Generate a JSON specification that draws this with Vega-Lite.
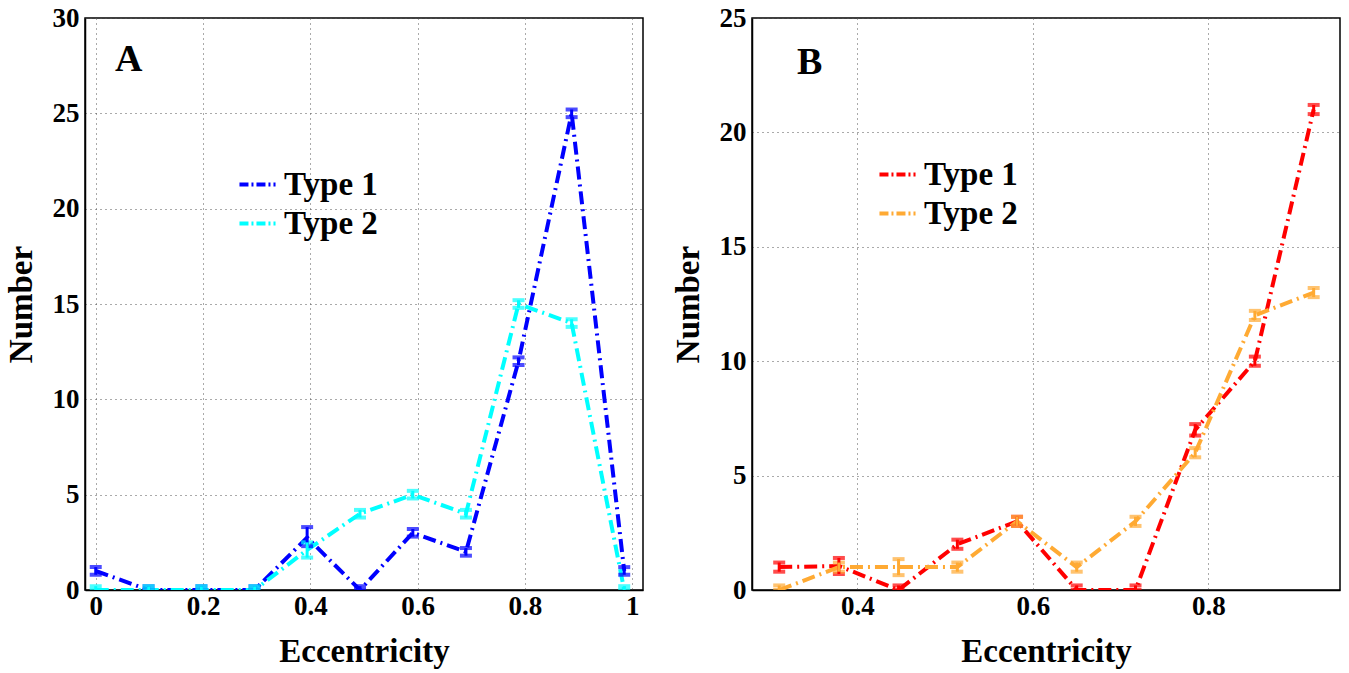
{
  "$schema": "https://vega.github.io/schema/vega-lite/v6.json",
  "background": "white",
  "padding": {"left": 4, "top": 3, "right": 5, "bottom": 0},
  "config": {
    "font": "Liberation Serif",
    "view": {"stroke": "black", "strokeWidth": 1.5},
    "axis": {
      "labelFont": "Liberation Serif", "labelFontSize": 27, "labelFontWeight": "bold", "labelColor": "black",
      "titleFont": "Liberation Serif", "titleFontSize": 33, "titleFontWeight": "bold", "titleColor": "black",
      "domainColor": "black", "domainWidth": 1.5, "tickColor": "black", "tickSize": 0, "labelPadding": 8,
      "gridColor": "#555", "gridDash": [1, 4], "gridOpacity": 1, "gridWidth": 1
    },
    "axisX": {"labelPadding": 3, "titlePadding": 16},
    "axisY": {"labelPadding": 6, "titlePadding": 14},
    "legend": {
      "orient": "none", "title": null, "symbolType": "stroke", "symbolStrokeWidth": 4,
      "symbolDash": [9, 3, 2, 3], "symbolSize": 1300, "labelFont": "Liberation Serif", "labelFontSize": 33,
      "labelFontWeight": "bold", "labelColor": "black", "rowPadding": 1, "labelOffset": 6
    },
    "title": {"font": "Liberation Serif", "fontSize": 38, "fontWeight": "bold", "color": "black"}
  },
  "spacing": 27,
  "resolve": {"scale": {"color": "independent"}, "legend": {"color": "independent"}},
  "hconcat": [
    {
      "width": 558, "height": 572,
      "title": {"text": "A", "anchor": "start", "orient": "top", "frame": "group", "dx": 30, "dy": 79},
      "data": {"values": [
        {"x": 0, "v": 1, "lo": 0.8, "hi": 1.2, "s": "Type 1"},
        {"x": 0.0985, "v": 0, "lo": 0, "hi": 0.2, "s": "Type 1"},
        {"x": 0.197, "v": 0, "lo": 0, "hi": 0.2, "s": "Type 1"},
        {"x": 0.296, "v": 0, "lo": 0, "hi": 0.2, "s": "Type 1"},
        {"x": 0.394, "v": 2.75, "lo": 2.3, "hi": 3.3, "s": "Type 1"},
        {"x": 0.4925, "v": 0, "lo": 0, "hi": 0.2, "s": "Type 1"},
        {"x": 0.591, "v": 3, "lo": 2.8, "hi": 3.2, "s": "Type 1"},
        {"x": 0.69, "v": 2, "lo": 1.8, "hi": 2.2, "s": "Type 1"},
        {"x": 0.788, "v": 12, "lo": 11.8, "hi": 12.2, "s": "Type 1"},
        {"x": 0.887, "v": 25, "lo": 24.8, "hi": 25.2, "s": "Type 1"},
        {"x": 0.985, "v": 1, "lo": 0.8, "hi": 1.2, "s": "Type 1"},
        {"x": 0, "v": 0, "lo": 0, "hi": 0.2, "s": "Type 2"},
        {"x": 0.0985, "v": 0, "lo": 0, "hi": 0.2, "s": "Type 2"},
        {"x": 0.197, "v": 0, "lo": 0, "hi": 0.2, "s": "Type 2"},
        {"x": 0.296, "v": 0, "lo": 0, "hi": 0.2, "s": "Type 2"},
        {"x": 0.394, "v": 2.1, "lo": 1.7, "hi": 2.5, "s": "Type 2"},
        {"x": 0.4925, "v": 4, "lo": 3.8, "hi": 4.2, "s": "Type 2"},
        {"x": 0.591, "v": 5, "lo": 4.8, "hi": 5.2, "s": "Type 2"},
        {"x": 0.69, "v": 4, "lo": 3.8, "hi": 4.2, "s": "Type 2"},
        {"x": 0.788, "v": 15, "lo": 14.8, "hi": 15.2, "s": "Type 2"},
        {"x": 0.887, "v": 14, "lo": 13.8, "hi": 14.2, "s": "Type 2"},
        {"x": 0.985, "v": 0, "lo": 0, "hi": 0.2, "s": "Type 2"}
      ]},
      "encoding": {
        "x": {"field": "x", "type": "quantitative", "scale": {"domain": [-0.02, 1.02], "nice": false, "zero": false},
              "axis": {"values": [0, 0.2, 0.4, 0.6, 0.8, 1], "format": "~g", "title": "Eccentricity"}}
      },
      "layer": [
        {
          "mark": {"type": "line", "strokeWidth": 4, "strokeDash": [13, 5, 2, 5], "clip": true},
          "encoding": {
            "y": {"field": "v", "type": "quantitative", "title": "Number", "scale": {"domain": [0, 30], "nice": false},
                  "axis": {"values": [0, 5, 10, 15, 20, 25, 30], "title": "Number"}},
            "color": {"field": "s", "type": "nominal",
                      "scale": {"domain": ["Type 1", "Type 2"], "range": ["#0000FF", "#00FFFF"]},
                      "legend": {"legendX": 152, "legendY": 146}}
          }
        },
        {
          "mark": {"type": "errorbar", "ticks": {"size": 12, "thickness": 4}, "thickness": 3, "clip": true},
          "encoding": {
            "y": {"field": "lo", "type": "quantitative", "title": "Number"},
            "y2": {"field": "hi"},
            "color": {"field": "s", "type": "nominal", "legend": null}
          }
        }
      ]
    },
    {
      "width": 588, "height": 572,
      "title": {"text": "B", "anchor": "start", "orient": "top", "frame": "group", "dx": 45, "dy": 82},
      "data": {"values": [
        {"x": 0.311, "v": 1, "lo": 0.8, "hi": 1.2, "s": "Type 1"},
        {"x": 0.379, "v": 1.05, "lo": 0.7, "hi": 1.4, "s": "Type 1"},
        {"x": 0.447, "v": 0, "lo": 0, "hi": 0.2, "s": "Type 1"},
        {"x": 0.514, "v": 2, "lo": 1.8, "hi": 2.2, "s": "Type 1"},
        {"x": 0.582, "v": 3, "lo": 2.8, "hi": 3.2, "s": "Type 1"},
        {"x": 0.65, "v": 0, "lo": 0, "hi": 0.2, "s": "Type 1"},
        {"x": 0.717, "v": 0, "lo": 0, "hi": 0.2, "s": "Type 1"},
        {"x": 0.785, "v": 7, "lo": 6.75, "hi": 7.25, "s": "Type 1"},
        {"x": 0.853, "v": 10, "lo": 9.8, "hi": 10.2, "s": "Type 1"},
        {"x": 0.92, "v": 21, "lo": 20.8, "hi": 21.2, "s": "Type 1"},
        {"x": 0.311, "v": 0, "lo": 0, "hi": 0.2, "s": "Type 2"},
        {"x": 0.379, "v": 1, "lo": 0.8, "hi": 1.2, "s": "Type 2"},
        {"x": 0.447, "v": 1, "lo": 0.65, "hi": 1.35, "s": "Type 2"},
        {"x": 0.514, "v": 1, "lo": 0.8, "hi": 1.2, "s": "Type 2"},
        {"x": 0.582, "v": 3, "lo": 2.8, "hi": 3.2, "s": "Type 2"},
        {"x": 0.65, "v": 1, "lo": 0.8, "hi": 1.2, "s": "Type 2"},
        {"x": 0.717, "v": 3, "lo": 2.8, "hi": 3.2, "s": "Type 2"},
        {"x": 0.785, "v": 6, "lo": 5.8, "hi": 6.2, "s": "Type 2"},
        {"x": 0.853, "v": 12, "lo": 11.8, "hi": 12.2, "s": "Type 2"},
        {"x": 0.92, "v": 13, "lo": 12.8, "hi": 13.2, "s": "Type 2"}
      ]},
      "encoding": {
        "x": {"field": "x", "type": "quantitative", "scale": {"domain": [0.28, 0.95], "nice": false, "zero": false},
              "axis": {"values": [0.4, 0.6, 0.8], "format": "~g", "title": "Eccentricity"}}
      },
      "layer": [
        {
          "mark": {"type": "line", "strokeWidth": 4, "strokeDash": [13, 5, 2, 5], "clip": true},
          "encoding": {
            "y": {"field": "v", "type": "quantitative", "title": "Number", "scale": {"domain": [0, 25], "nice": false},
                  "axis": {"values": [0, 5, 10, 15, 20, 25], "title": "Number"}},
            "color": {"field": "s", "type": "nominal",
                      "scale": {"domain": ["Type 1", "Type 2"], "range": ["#FF0000", "#FFAA33"]},
                      "legend": {"legendX": 125, "legendY": 136}}
          }
        },
        {
          "mark": {"type": "errorbar", "ticks": {"size": 12, "thickness": 4}, "thickness": 3, "clip": true},
          "encoding": {
            "y": {"field": "lo", "type": "quantitative", "title": "Number"},
            "y2": {"field": "hi"},
            "color": {"field": "s", "type": "nominal", "legend": null}
          }
        }
      ]
    }
  ]
}
